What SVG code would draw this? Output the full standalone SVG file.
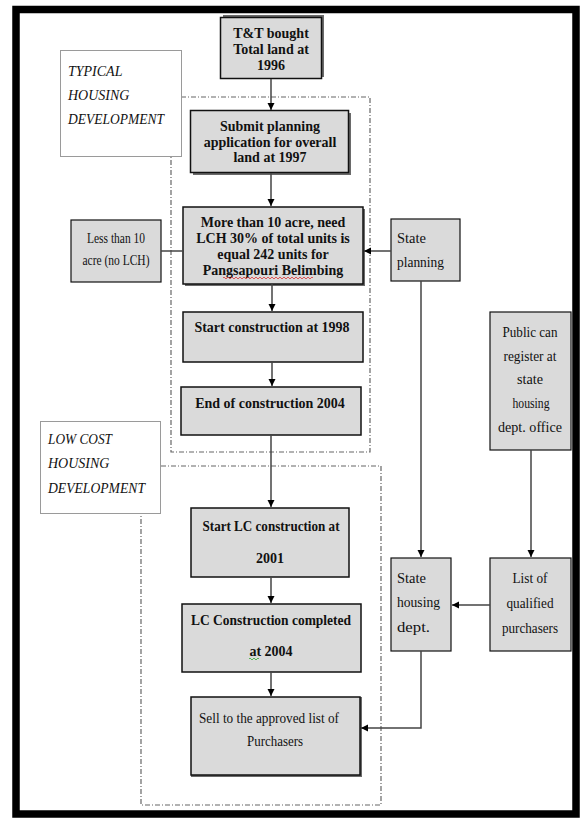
<svg xmlns="http://www.w3.org/2000/svg" width="586" height="818" viewBox="0 0 586 818">
<defs>
<marker id="ah" markerWidth="8" markerHeight="8" refX="7" refY="4" orient="auto" markerUnits="userSpaceOnUse">
<path d="M0,0.5 L7,4 L0,7.5 Z" fill="#000"/>
</marker>
</defs>
<style>
.box{fill:#dadada;stroke:#111;stroke-width:1.5}
.shd{fill:#6a6a6a}
.lbl{fill:#fff;stroke:#9a9a9a;stroke-width:1}
.grp{fill:none;stroke:#666;stroke-width:1.2;stroke-dasharray:5,2,1,2}
.b{font-family:"Liberation Serif","Times New Roman",serif;font-weight:bold;font-size:14px;fill:#111;text-anchor:middle}
.n{font-family:"Liberation Serif","Times New Roman",serif;font-size:15px;fill:#111}
.it{font-family:"Liberation Serif","Times New Roman",serif;font-style:italic;font-size:14px;fill:#111}
.c{text-anchor:middle}
.ln{fill:none;stroke:#444;stroke-width:1.5}
</style>
<rect x="0" y="0" width="586" height="818" fill="#fff"/>
<rect x="16" y="9.5" width="560" height="804.5" fill="none" stroke="#000" stroke-width="7.5"/>

<g id="grp-typical"><rect class="grp" x="171" y="97" width="199" height="355"/></g>
<g id="grp-lowcost"><rect class="grp" x="141" y="466" width="240" height="339"/></g>

<g id="label-typical">
<rect class="lbl" x="60.5" y="50.5" width="121" height="106"/>
<text class="it" x="68" y="76">TYPICAL</text>
<text class="it" x="68" y="100">HOUSING</text>
<text class="it" x="68" y="124" textLength="96" lengthAdjust="spacingAndGlyphs">DEVELOPMENT</text>
</g>
<g id="label-lowcost">
<rect class="lbl" x="40.5" y="421.5" width="120" height="92"/>
<text class="it" x="48" y="444" textLength="64" lengthAdjust="spacingAndGlyphs">LOW COST</text>
<text class="it" x="48" y="468">HOUSING</text>
<text class="it" x="48" y="493" textLength="97" lengthAdjust="spacingAndGlyphs">DEVELOPMENT</text>
</g>

<g id="n-bought">
<rect class="shd" x="223" y="15" width="101" height="62"/>
<rect class="box" x="220.5" y="17.5" width="101" height="61"/>
<text class="b" x="271" y="38">T&amp;T bought</text>
<text class="b" x="271" y="54">Total land at</text>
<text class="b" x="271" y="70">1996</text>
</g>

<g id="n-submit">
<rect class="shd" x="193" y="113" width="158" height="62"/>
<rect class="box" x="190.5" y="110.5" width="158" height="62"/>
<text class="b" x="270" y="131">Submit planning</text>
<text class="b" x="270" y="147">application for overall</text>
<text class="b" x="270" y="162">land at 1997</text>
</g>

<g id="n-more">
<rect class="shd" x="185" y="209" width="180" height="77"/>
<rect class="box" x="183" y="207" width="180" height="77"/>
<text class="b" x="273" y="227">More than 10 acre, need</text>
<text class="b" x="273" y="243">LCH 30% of total units is</text>
<text class="b" x="273" y="259">equal 242 units for</text>
<text class="b" x="273" y="275">Pangsapouri Belimbing</text>
<path d="M223,278 q1,-2 2,0 t2,0 t2,0 t2,0 t2,0 t2,0 t2,0 t2,0 t2,0 t2,0 t2,0 t2,0 t2,0 t2,0 t2,0 t2,0 t2,0 t2,0 t2,0 t2,0 t2,0 t2,0 t2,0 t2,0 t2,0 t2,0 t2,0 t2,0 t2,0 t2,0 t2,0 t2,0 t2,0 t2,0 t2,0 t2,0 t2,0 t2,0 t2,0 t2,0 t2,0 t2,0 t2,0 t2,0 t2,0" fill="none" stroke="#d33" stroke-width="0.8"/>
</g>

<g id="n-less">
<rect class="box" x="71" y="220" width="90" height="62" style="stroke-width:1.2"/>
<text class="n c" x="116" y="243" textLength="58" lengthAdjust="spacingAndGlyphs">Less than 10</text>
<text class="n c" x="116" y="265" textLength="67" lengthAdjust="spacingAndGlyphs">acre (no LCH)</text>
</g>

<g id="n-start">
<rect class="box" x="183" y="312" width="180" height="50"/>
<text class="b" x="272" y="332">Start construction at 1998</text>
</g>

<g id="n-end">
<rect class="box" x="181" y="387" width="180" height="48"/>
<text class="b" x="270" y="408">End of construction 2004</text>
</g>

<g id="n-stateplanning">
<rect class="box" x="391" y="219" width="69" height="62" style="stroke-width:1.2"/>
<text class="n" x="397" y="243" textLength="29" lengthAdjust="spacingAndGlyphs">State</text>
<text class="n" x="397" y="267" textLength="47" lengthAdjust="spacingAndGlyphs">planning</text>
</g>

<g id="n-public">
<rect class="box" x="490" y="312" width="81" height="138" style="stroke-width:1.2"/>
<text class="n c" x="530" y="337" textLength="55" lengthAdjust="spacingAndGlyphs">Public can</text>
<text class="n c" x="530" y="361" textLength="53" lengthAdjust="spacingAndGlyphs">register at</text>
<text class="n c" x="530" y="384" textLength="26" lengthAdjust="spacingAndGlyphs">state</text>
<text class="n c" x="531" y="408" textLength="37" lengthAdjust="spacingAndGlyphs">housing</text>
<text class="n c" x="530" y="432" textLength="64" lengthAdjust="spacingAndGlyphs">dept. office</text>
</g>

<g id="n-statehousing">
<rect class="box" x="391" y="558" width="60" height="93" style="stroke-width:1.2"/>
<text class="n" x="397" y="583" textLength="29" lengthAdjust="spacingAndGlyphs">State</text>
<text class="n" x="397" y="607" textLength="43" lengthAdjust="spacingAndGlyphs">housing</text>
<text class="n" x="397" y="632" textLength="33" lengthAdjust="spacingAndGlyphs">dept.</text>
</g>

<g id="n-list">
<rect class="box" x="490" y="558" width="81" height="93" style="stroke-width:1.2"/>
<text class="n c" x="530" y="583" textLength="35" lengthAdjust="spacingAndGlyphs">List of</text>
<text class="n c" x="530" y="608" textLength="47" lengthAdjust="spacingAndGlyphs">qualified</text>
<text class="n c" x="530" y="633" textLength="56" lengthAdjust="spacingAndGlyphs">purchasers</text>
</g>

<g id="n-startlc">
<rect class="box" x="191" y="508" width="158" height="69"/>
<text class="b" x="271" y="531" textLength="137" lengthAdjust="spacingAndGlyphs">Start LC construction at</text>
<text class="b" x="270" y="563">2001</text>
</g>

<g id="n-lccompleted">
<rect class="box" x="182" y="604" width="179" height="68"/>
<text class="b" x="271" y="625" textLength="160" lengthAdjust="spacingAndGlyphs">LC Construction completed</text>
<text class="b" x="271" y="656">at 2004</text>
<path d="M249,659 q1,-2 2,0 t2,0 t2,0 t2,0 t2,0" fill="none" stroke="#3a3" stroke-width="0.8"/>
</g>

<g id="n-sell">
<rect class="shd" x="191" y="697" width="171" height="80"/>
<rect class="box" x="191" y="697" width="169" height="78"/>
<text class="n c" x="269" y="723" textLength="140" lengthAdjust="spacingAndGlyphs">Sell to the approved list of</text>
<text class="n c" x="275" y="746" textLength="56" lengthAdjust="spacingAndGlyphs">Purchasers</text>
</g>

<g id="connectors">
<line class="ln" x1="271" y1="79" x2="271" y2="110" marker-end="url(#ah)"/>
<line class="ln" x1="271" y1="173" x2="271" y2="206" marker-end="url(#ah)"/>
<line class="ln" x1="272" y1="284" x2="272" y2="311" marker-end="url(#ah)"/>
<line class="ln" x1="272" y1="362" x2="272" y2="386" marker-end="url(#ah)"/>
<line class="ln" x1="271" y1="435" x2="271" y2="507" marker-end="url(#ah)"/>
<line class="ln" x1="271" y1="577" x2="271" y2="603" marker-end="url(#ah)"/>
<line class="ln" x1="271" y1="672" x2="271" y2="696" marker-end="url(#ah)"/>
<line class="ln" x1="161" y1="251" x2="183" y2="251"/>
<line class="ln" x1="391" y1="251" x2="364" y2="251" marker-end="url(#ah)"/>
<line class="ln" x1="421" y1="281" x2="421" y2="557" marker-end="url(#ah)"/>
<line class="ln" x1="531" y1="450" x2="531" y2="557" marker-end="url(#ah)"/>
<line class="ln" x1="490" y1="605" x2="452" y2="605" marker-end="url(#ah)"/>
<polyline class="ln" points="421,651 421,728 361,728" marker-end="url(#ah)"/>
</g>
</svg>
